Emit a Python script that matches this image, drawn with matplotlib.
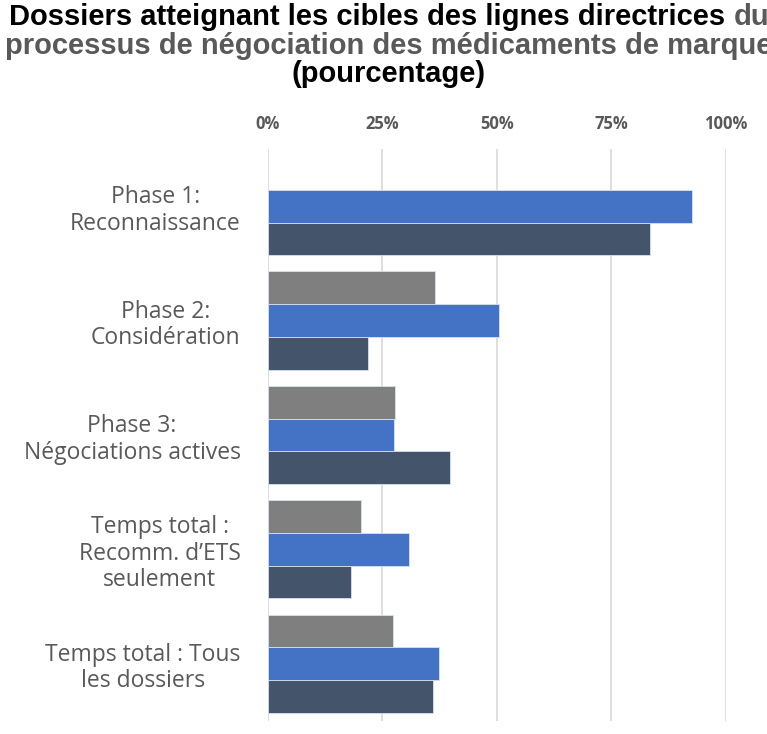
import numpy as np
import matplotlib
matplotlib.use("Agg")
import matplotlib.pyplot as plt

# Données (pourcentages)
categories = [
    "Phase 1:\nReconnaissance",
    "Phase 2:\nConsidération",
    "Phase 3:\nNégociations actives",
    "Temps total :\nRecomm. d\u2019ETS\nseulement",
    "Temps total : Tous\nles dossiers",
]
serie_grise = [np.nan, 36.5, 27.7, 20.4, 27.4]
serie_bleue = [92.7, 50.5, 27.5, 30.8, 37.5]
serie_foncee = [83.6, 22.0, 39.9, 18.3, 36.1]
ticks_x = [0, 25, 50, 75, 100]
labels_x = ["0%", "25%", "50%", "75%", "100%"]

couleurs = ["#7F7F7F", "#4472C4", "#44546A"]
gris_texte = "#595959"

fig = plt.figure(figsize=(7.67, 7.34), dpi=100)
ax = fig.add_axes([0.349, 0.018, 0.597, 0.779])

y = np.arange(len(categories))
h = 0.286
for i, (vals, c) in enumerate(zip([serie_grise, serie_bleue, serie_foncee], couleurs)):
    ax.barh(y + (i - 1) * h, vals, height=h, color=c,
            edgecolor="#D9E1F2", linewidth=0.6, zorder=3)

ax.set_xlim(0, 100)
ax.set_ylim(len(categories) - 0.5, -0.5)
ax.set_xticks(ticks_x)
ax.set_xticklabels(labels_x)
ax.xaxis.tick_top()
ax.tick_params(axis="x", length=0, pad=11.5, labelsize=12, labelcolor=gris_texte)
for lab in ax.get_xticklabels():
    lab.set_fontweight("bold")
    lab.set_fontfamily("Open Sans")

ax.set_yticks(y)
ax.set_yticklabels(categories, fontfamily="Open Sans", fontsize=16.5,
                   color=gris_texte, multialignment="center", linespacing=1.15)
ax.tick_params(axis="y", length=0, pad=19.5)

ax.grid(axis="x", color="#D9D9D9", linewidth=1.2, zorder=0)
ax.set_axisbelow(True)
for s in ax.spines.values():
    s.set_visible(False)

# Titre (en trois lignes, "du" et la 2e ligne en gris)
cx = 389 / 767
taille = 21
r = fig.canvas.get_renderer()
t1 = fig.text(0, 0, "Dossiers atteignant les cibles des lignes directrices ",
              fontsize=taille, fontweight="bold", family="Liberation Sans", va="baseline")
t2 = fig.text(0, 0, "du", fontsize=taille, fontweight="bold", family="Liberation Sans",
              color=gris_texte, va="baseline")
w1 = t1.get_window_extent(r).width / fig.bbox.width
w2 = t2.get_window_extent(r).width / fig.bbox.width
x0 = cx - (w1 + w2) / 2
t1.set_position((x0, 0.966))
t2.set_position((x0 + w1, 0.966))
fig.text(cx, 0.927, "processus de négociation des médicaments de marque",
         fontsize=taille, fontweight="bold", family="Liberation Sans",
         color=gris_texte, ha="center", va="baseline")
fig.text(cx, 0.888, "(pourcentage)", fontsize=taille, fontweight="bold",
         family="Liberation Sans", ha="center", va="baseline")

fig.savefig("out.png", dpi=100)
